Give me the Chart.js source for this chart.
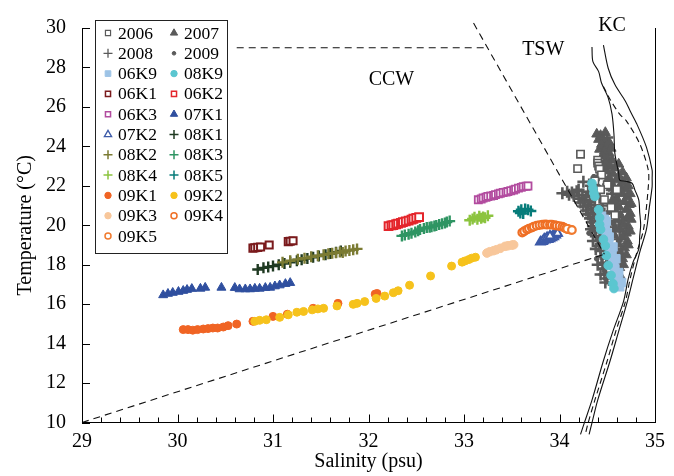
<!DOCTYPE html>
<html><head><meta charset="utf-8">
<script src="https://cdn.jsdelivr.net/npm/chart.js@4.4.1/dist/chart.umd.min.js"></script>
<style>html,body{margin:0;padding:0;background:#fff;}#wrap{width:674px;height:476px;position:relative;}</style>
</head><body><div id="wrap"><canvas id="c" width="674" height="476"></canvas></div>
<script>
// ---------- axis ticks ----------
const xTicks = [29, 30, 31, 32, 33, 34, 35];
const yTicks = [10, 12, 14, 16, 18, 20, 22, 24, 26, 28, 30];
const xMinorStep = 0.2;
const xTitle = 'Salinity (psu)';
const yTitle = 'Temperature (°C)';
const regionLabels = ['CCW', 'TSW', 'KC'];
const legendOrder = ['2006','2007','2008','2009','06K9','08K9','06K1','06K2','06K3','07K1','07K2','08K1','08K2','08K3','08K4','08K5','09K1','09K2','09K3','09K4','09K5'];

// ---------- series values [salinity, temperature] ----------
const d2006 = [[34.22,23.6],[34.19,22.87],[34.4,23.3],[34.4,23.15],[34.41,23.0],[34.42,22.85],[34.44,22.55],[34.37,22.25],[34.5,22.05],[34.43,21.8],[34.47,21.3],[34.54,20.9],[34.44,20.3],[34.52,19.7],[34.56,19.1],[34.48,18.5],[34.53,17.8],[34.58,20.5],[34.6,21.8]];
const d2007 = [[34.39,24.62],[34.43,24.55],[34.41,24.35],[34.46,24.3],[34.44,24.1],[34.49,24.0],[34.42,23.85],[34.47,23.75],[34.52,23.65],[34.45,23.5],[34.5,23.4],[34.55,23.3],[34.48,23.15],[34.53,23.0],[34.58,22.9],[34.5,22.75],[34.56,22.6],[34.62,22.5],[34.52,22.4],[34.6,22.3],[34.66,22.2],[34.55,22.1],[34.63,21.95],[34.69,21.85],[34.58,21.75],[34.66,21.6],[34.71,21.45],[34.6,21.35],[34.68,21.2],[34.73,21.05],[34.62,20.95],[34.7,20.8],[34.74,20.6],[34.64,20.5],[34.71,20.35],[34.66,20.15],[34.72,19.95],[34.64,19.8],[34.7,19.6],[34.66,19.4],[34.71,19.2],[34.62,19.05],[34.68,18.85],[34.64,18.6],[34.66,18.3],[34.6,18.1],[34.63,17.85],[34.58,17.6],[34.6,17.3],[34.56,17.1],
  [34.46,23.0],[34.5,22.2],[34.54,21.9],[34.56,21.3],[34.58,20.8],[34.6,20.3],[34.58,19.9],[34.57,19.5],[34.56,18.9],[34.55,18.4],[34.52,24.2],[34.48,24.7],[34.54,23.9],[34.62,23.1],[34.66,22.7],[34.7,22.4],[34.72,22.0],[34.74,21.6],[34.75,21.1],[34.75,20.3],[34.74,19.7],[34.72,19.0],[34.7,18.5],[34.67,18.0],[34.64,17.4],[34.6,16.9]];
const d2008 = [[34.03,21.62],[34.08,21.7],[34.13,21.66],[34.18,21.72],[34.15,21.5],[34.2,21.35],[34.24,21.55],[34.22,21.15],[34.27,21.25],[34.25,20.95],[34.3,21.05],[34.28,20.75],[34.33,20.85],[34.3,20.55],[34.35,20.6],[34.32,20.35],[34.37,20.4],[34.34,20.15],[34.39,20.2],[34.35,19.95],[34.4,19.9],[34.37,19.7],[34.42,19.65],[34.38,19.45],[34.44,19.4],[34.4,19.2],[34.46,19.15],[34.42,18.95],[34.47,18.9],[34.43,18.7],[34.48,18.6],[34.44,18.4],[34.49,18.3],[34.45,18.1],[34.5,18.0],[34.46,17.8],[34.51,17.7],[34.47,17.5],[34.5,17.3],[34.48,17.1],[34.33,22.0],[34.36,22.3],[34.38,21.8],[34.42,21.4],[34.45,21.0],[34.47,20.6],[34.5,20.2],[34.53,19.8],[34.55,19.4],[34.56,19.0],[34.57,18.6],[34.25,22.2],
  [34.3,21.7],[34.35,21.5],[34.28,21.45],[34.32,21.2],[34.37,21.0],[34.4,20.7],[34.42,20.4],[34.44,20.1],[34.46,19.8],[34.48,19.5],[34.5,19.0],[34.52,18.5],[34.53,18.1],[34.54,17.6],[34.4,22.5],[34.45,22.8],[34.48,23.2],[34.46,23.9],[34.44,24.3],[34.5,24.45],[34.52,22.0],[34.55,21.6],[34.58,21.1],[34.6,20.6],[34.62,20.2],[34.63,19.7],[34.6,19.2],[34.6,18.8],[34.58,18.3],[34.56,17.8],[34.35,19.2],[34.33,19.8],[34.38,18.8],[34.4,18.0],[34.43,17.5],[34.1,21.55],[34.2,21.8]];
const d2009 = [[34.36,22.45],[34.41,21.95],[34.46,21.2],[34.51,20.65],[34.56,20.1],[34.58,19.5],[34.5,19.0],[34.53,18.2],[34.55,17.5],[34.6,21.5],[34.63,20.9],[34.47,23.5],[34.43,24.0],[34.36,20.8],[34.31,19.6],[34.39,18.3],[34.65,22.0],[34.68,20.0]];
const d06K9 = [[34.44,20.46],[34.46,20.13],[34.48,19.79],[34.49,19.46],[34.51,19.13],[34.53,18.79],[34.55,18.46],[34.56,18.13],[34.58,17.79],[34.6,17.46],[34.62,17.13],[34.63,16.88],[34.47,20.3],[34.5,19.6],[34.54,18.6],[34.57,17.95],[34.49,20.2],[34.52,19.4],[34.56,18.9],[34.59,18.3],[34.62,17.6],[34.65,17.1]];
const d08K9 = [[34.34,22.13],[34.35,21.88],[34.36,21.63],[34.37,21.46],[34.41,20.79],[34.42,20.38],[34.42,20.04],[34.43,19.79],[34.46,19.29],[34.48,18.96],[34.49,18.46],[34.51,17.96],[34.54,17.46],[34.56,17.04],[34.57,16.79]];
const d06K1 = [[30.79,18.84],[30.81,18.86],[30.84,18.88],[30.87,18.9],[30.96,19.0],[31.16,19.17],[31.18,19.19],[31.21,19.21]];
const d06K2 = [[32.21,19.96],[32.24,19.99],[32.26,20.01],[32.29,20.05],[32.31,20.08],[32.34,20.12],[32.36,20.16],[32.39,20.2],[32.42,20.24],[32.45,20.29],[32.47,20.33],[32.5,20.37],[32.53,20.41]];
const d06K3 = [[33.15,21.29],[33.18,21.33],[33.2,21.38],[33.23,21.42],[33.25,21.46],[33.28,21.48],[33.31,21.51],[33.33,21.55],[33.36,21.59],[33.38,21.62],[33.41,21.66],[33.44,21.68],[33.46,21.71],[33.49,21.75],[33.52,21.79],[33.54,21.83],[33.57,21.88],[33.6,21.92],[33.62,21.96],[33.65,21.98],[33.67,21.99]];
const d07K1 = [[29.85,16.46],[29.9,16.53],[29.95,16.58],[30.01,16.63],[30.06,16.68],[30.1,16.73],[30.15,16.78],[30.24,16.79],[30.29,16.84],[30.46,16.84],[30.6,16.83],[30.65,16.76],[30.71,16.76],[30.76,16.76],[30.81,16.79],[30.86,16.79],[30.92,16.83],[30.97,16.84],[31.02,16.91],[31.07,16.96],[31.13,17.03],[31.18,17.08]];
const d07K2 = [[33.8,19.15],[33.82,19.18],[33.83,19.22],[33.85,19.25],[33.86,19.3],[33.88,19.28],[33.89,19.35],[33.9,19.32],[33.91,19.4],[33.92,19.36],[33.93,19.45],[33.94,19.42],[33.95,19.52],[33.96,19.5],[33.97,19.58],[33.98,19.6],[33.84,19.3],[33.87,19.38],[33.9,19.45]];
const d08K1 = [[30.84,17.76],[30.9,17.84],[30.95,17.88],[31.0,17.93],[31.06,18.0],[31.12,18.06],[31.18,18.12],[31.25,18.2],[31.3,18.25],[31.36,18.31],[31.42,18.38],[31.48,18.44],[31.55,18.51],[31.6,18.57],[31.66,18.63],[31.71,18.7]];
const d08K2 = [[31.1,18.12],[31.18,18.2],[31.26,18.27],[31.33,18.33],[31.4,18.4],[31.47,18.45],[31.53,18.5],[31.58,18.55],[31.62,18.58],[31.66,18.6],[31.7,18.65],[31.73,18.62],[31.76,18.7],[31.8,18.72],[31.84,18.76],[31.88,18.8]];
const d08K3 = [[32.35,19.46],[32.38,19.5],[32.42,19.54],[32.45,19.6],[32.49,19.66],[32.52,19.72],[32.54,19.79],[32.58,19.84],[32.61,19.88],[32.64,19.9],[32.66,19.93],[32.69,19.96],[32.71,19.99],[32.74,20.04],[32.77,20.08],[32.8,20.12],[32.82,20.16],[32.85,20.21]];
const d08K4 = [[33.06,20.25],[33.09,20.32],[33.11,20.4],[33.14,20.3],[33.16,20.45],[33.18,20.36],[33.2,20.42],[33.22,20.38],[33.25,20.48]];
const d08K5 = [[33.57,20.71],[33.6,20.79],[33.64,20.83],[33.67,20.79],[33.62,20.6],[33.59,20.62],[33.7,20.72]];
const d09K1 = [[30.06,14.71],[30.11,14.71],[30.16,14.68],[30.21,14.71],[30.27,14.74],[30.32,14.76],[30.37,14.79],[30.42,14.79],[30.48,14.84],[30.53,14.91],[30.62,14.99],[30.79,15.13],[31.0,15.38],[31.15,15.49],[31.42,15.79],[31.68,16.04],[32.07,16.51],[32.09,16.54]];
const d09K2 = [[30.81,15.13],[30.86,15.18],[30.93,15.21],[31.07,15.33],[31.16,15.46],[31.25,15.59],[31.32,15.63],[31.41,15.71],[31.47,15.76],[31.53,15.79],[31.67,15.91],[31.84,15.99],[31.88,16.04],[31.96,16.13],[32.08,16.29],[32.17,16.41],[32.26,16.58],[32.31,16.68],[32.43,16.96],[32.65,17.43],[32.87,17.93],[32.98,18.13],[33.01,18.19],[33.05,18.26],[33.08,18.33],[33.12,18.38]];
const d09K3 = [[33.24,18.59],[33.27,18.66],[33.31,18.71],[33.34,18.76],[33.38,18.83],[33.43,18.93],[33.46,18.96],[33.5,18.99],[33.52,19.01]];
const d09K4 = [[33.61,19.63],[33.63,19.7],[33.66,19.78],[33.68,19.83],[33.71,19.88],[33.73,19.93],[33.76,19.98],[33.79,20.01],[33.82,20.03],[33.85,20.04],[33.87,20.03],[33.9,20.03],[33.92,20.03],[33.95,20.0],[33.97,19.98],[34.0,19.96],[34.03,19.93],[34.05,19.88],[34.07,19.83],[34.09,19.8],[34.11,19.78]];
const d09K5 = [[34.08,19.82],[34.13,19.76]];

// ---------- water-mass boundaries and KC curves ----------
const bLower = [[29,10],[34.47,18.53]];
const bUpperH = [[30.62,29],[33.25,29]];
const bUpperD = [[33.10,30.25],[34.47,18.53]];
const kcLeft = [[34.34,29.04],[34.35,28.29],[34.41,27.79],[34.44,27.21],[34.51,26.46],[34.55,25.63],[34.57,24.63],[34.58,23.63],[34.62,22.63],[34.63,22.29],[34.69,22.23],[34.76,22.13],[34.79,21.78],[34.83,21.29],[34.84,20.63],[34.85,20.03],[34.84,19.46],[34.83,18.79],[34.77,18.13],[34.72,17.29],[34.67,16.13],[34.56,14.63],[34.46,13.13],[34.34,11.13],[34.26,9.98],[34.22,9.4]];
const kcRight = [[34.46,29.13],[34.51,27.96],[34.58,27.13],[34.69,26.29],[34.74,25.79],[34.81,25.13],[34.91,23.96],[34.97,22.79],[34.97,22.38],[34.97,21.96],[34.94,20.88],[34.91,19.79],[34.84,18.63],[34.77,17.29],[34.71,16.13],[34.62,14.63],[34.53,13.13],[34.4,11.13],[34.34,9.98],[34.31,9.4]];
const kcMid = [[34.46,27.04],[34.53,26.38],[34.63,25.63],[34.7,25.29],[34.84,24.13],[34.93,22.79],[34.93,21.96],[34.88,19.79],[34.81,18.63],[34.74,17.29],[34.69,16.13],[34.59,14.63],[34.5,13.13],[34.37,11.13],[34.3,9.98],[34.27,9.4]];

// ---------- styles ----------
const GRAY = '#5a5a5a';
const styles = {
  '2006': {ps:'rect', fill:false, c:GRAY, r:5.2, lw:1.6, lr:3.6, llw:1.2},
  '2007': {ps:'triangle', fill:true, c:GRAY, r:5.8, lw:1, lr:4.2, llw:1},
  '2008': {ps:'cross', fill:false, c:GRAY, r:6, lw:2.6, lr:4.5, llw:1.3},
  '2009': {ps:'circle', fill:true, c:GRAY, r:2.4, lw:1, lr:1.8, llw:1},
  '06K9': {ps:'rect', fill:true, c:'#9dc3e6', r:6, lw:1, lr:4, llw:1},
  '08K9': {ps:'circle', fill:true, c:'#5bc6d0', r:4.3, lw:1, lr:3.2, llw:1},
  '06K1': {ps:'rect', fill:false, c:'#7a1a1c', r:5, lw:2, lr:3.6, llw:1.5},
  '06K2': {ps:'rect', fill:false, c:'#e4252b', r:5.5, lw:2, lr:3.6, llw:1.5},
  '06K3': {ps:'rect', fill:false, c:'#b24c9f', r:5, lw:1.8, lr:3.6, llw:1.5},
  '07K1': {ps:'triangle', fill:true, c:'#2f4f9f', r:5.2, lw:1, lr:4.2, llw:1},
  '07K2': {ps:'triangle', fill:false, c:'#3c5aa8', r:5, lw:2, lr:4.2, llw:1.3},
  '08K1': {ps:'cross', fill:false, c:'#1f3a22', r:5.5, lw:2.4, lr:4.5, llw:1.5},
  '08K2': {ps:'cross', fill:false, c:'#7b7b33', r:5.5, lw:2.4, lr:4.5, llw:1.5},
  '08K3': {ps:'cross', fill:false, c:'#2f9563', r:5.5, lw:2.4, lr:4.5, llw:1.5},
  '08K4': {ps:'cross', fill:false, c:'#8cc43f', r:5.5, lw:2.4, lr:4.5, llw:1.5},
  '08K5': {ps:'cross', fill:false, c:'#077c7a', r:5.5, lw:2.4, lr:4.5, llw:1.5},
  '09K1': {ps:'circle', fill:true, c:'#f06424', r:4, lw:1, lr:3.2, llw:1},
  '09K2': {ps:'circle', fill:true, c:'#f6c21c', r:4, lw:1, lr:3.2, llw:1},
  '09K3': {ps:'circle', fill:true, c:'#f8c79b', r:4.3, lw:1, lr:3.2, llw:1},
  '09K4': {ps:'circle', fill:false, c:'#ef6f25', r:3.8, lw:2.2, lr:3, llw:1.5},
  '09K5': {ps:'circle', fill:false, c:'#f07a2e', r:3.8, lw:2.2, lr:3, llw:1.5}
};
const seriesData = {'2006':d2006,'2007':d2007,'2008':d2008,'2009':d2009,'06K9':d06K9,'08K9':d08K9,'06K1':d06K1,'06K2':d06K2,'06K3':d06K3,'07K1':d07K1,'07K2':d07K2,'08K1':d08K1,'08K2':d08K2,'08K3':d08K3,'08K4':d08K4,'08K5':d08K5,'09K1':d09K1,'09K2':d09K2,'09K3':d09K3,'09K4':d09K4,'09K5':d09K5};

const toXY = a => a.map(p => ({x:p[0], y:p[1]}));
const datasets = [];
function lineDs(label, arr, dash, tension){
  return {label, data: toXY(arr), showLine:true, pointRadius:0, borderColor:'#111', borderWidth:1.1,
    borderDash: dash, tension: tension, clip:false, order:0, fill:false};
}
datasets.push(lineDs('bLower', bLower, [7,5], 0));
datasets.push(lineDs('bUpperH', bUpperH, [7,5], 0));
datasets.push(lineDs('bUpperD', bUpperD, [7,5], 0));
datasets.push(lineDs('kcLeft', kcLeft, [], 0.3));
datasets.push(lineDs('kcRight', kcRight, [], 0.3));
datasets.push(lineDs('kcMid', kcMid, [6,4], 0.3));
const drawSeq = ['08K9','06K9','09K5','09K4','09K3','09K2','09K1','08K5','08K4','08K3','08K2','08K1','07K2','07K1','06K3','06K2','06K1','2006','2009','2007','2008'];
drawSeq.forEach(name => {
  const s = styles[name];
  const gray = /^20/.test(name);
  datasets.push({label:name, data: toXY(seriesData[name]), showLine:false,
    pointStyle:s.ps, pointRadius:s.r, pointBorderWidth:s.lw,
    pointBackgroundColor: s.fill ? s.c : '#ffffff', pointBorderColor:s.c,
    pointHoverRadius:s.r, order: gray ? 2 : 1});
});

const FONT = '"Liberation Serif", "Times New Roman", serif';
Chart.defaults.font.family = FONT;
Chart.defaults.color = '#000';

const tickPlugin = {
  id:'inwardTicks',
  afterDatasetsDraw(chart){
    const ctx = chart.ctx, ca = chart.chartArea, xs = chart.scales.x, ys = chart.scales.y;
    ctx.save();
    ctx.strokeStyle = '#000'; ctx.lineWidth = 1;
    ctx.beginPath();
    const n = Math.round((xTicks[xTicks.length-1]-xTicks[0])/xMinorStep);
    for (let i=0;i<=n;i++){
      const v = xTicks[0] + i*xMinorStep;
      const major = i % Math.round(1/xMinorStep) === 0;
      const px = Math.round(xs.getPixelForValue(v)) + 0.5;
      ctx.moveTo(px, ca.bottom); ctx.lineTo(px, ca.bottom - (major ? 8 : 5));
    }
    yTicks.forEach(v => {
      const py = Math.round(ys.getPixelForValue(v)) + 0.5;
      ctx.moveTo(ca.left, py); ctx.lineTo(ca.left + 8, py);
    });
    ctx.moveTo(Math.round(ca.right)+0.5, ca.top); ctx.lineTo(Math.round(ca.right)+0.5, ca.bottom);
    ctx.stroke();

    const pos = {CCW:[32.24,27.38], TSW:[33.83,28.9], KC:[34.55,30.12]};
    ctx.fillStyle = '#000'; ctx.font = '20px ' + FONT; ctx.textAlign='center'; ctx.textBaseline='middle';
    regionLabels.forEach(t => ctx.fillText(t, xs.getPixelForValue(pos[t][0]), ys.getPixelForValue(pos[t][1])));

    const bx = ca.left + 13, by = 20, bw = 132, bh = 233;
    ctx.fillStyle = '#fff'; ctx.fillRect(bx, by, bw, bh);
    ctx.strokeStyle = '#222'; ctx.lineWidth = 1; ctx.strokeRect(bx+0.5, by+0.5, bw, bh);
    ctx.font = '17.5px ' + FONT; ctx.textAlign='left'; ctx.textBaseline='middle';
    legendOrder.forEach((name, i) => {
      const col = i % 2, row = Math.floor(i/2);
      const mx = bx + 13 + col*66, my = by + 13 + row*20.3;
      const s = styles[name];
      ctx.save();
      ctx.fillStyle = s.fill ? s.c : '#fff'; ctx.strokeStyle = s.c; ctx.lineWidth = s.llw;
      Chart.helpers.drawPoint(ctx, {pointStyle:s.ps, radius:s.lr, rotation:0, borderWidth:s.llw}, mx, my);
      ctx.restore();
      ctx.fillStyle = '#000';
      ctx.fillText(name, mx + 10, my + 1);
    });
    ctx.restore();
  }
};

new Chart(document.getElementById('c'), {
  type:'scatter',
  data:{datasets},
  options:{
    responsive:false, animation:false, devicePixelRatio:1,
    layout:{padding:{left:0, right:19, top:22, bottom:0}},
    plugins:{legend:{display:false}, tooltip:{enabled:false}},
    elements:{line:{borderCapStyle:'butt'}},
    scales:{
      x:{type:'linear', min:29, max:35,
        afterBuildTicks: s => { s.ticks = xTicks.map(v => ({value:v})); },
        afterFit: s => { s.height = 53.5; },
        grid:{display:true, drawOnChartArea:false, drawTicks:false},
        border:{display:true, color:'#000', width:1},
        ticks:{font:{size:20}, color:'#000', padding:7, maxRotation:0},
        title:{display:true, text:xTitle, font:{size:20, lineHeight:1.2}, color:'#000', padding:{top:0,bottom:2}}
      },
      y:{type:'linear', min:10, max:30,
        afterBuildTicks: s => { s.ticks = yTicks.map(v => ({value:v})); },
        afterFit: s => { s.width = 82; },
        grid:{display:true, drawOnChartArea:false, drawTicks:false},
        border:{display:true, color:'#000', width:1},
        ticks:{font:{size:20}, color:'#000', padding:16},
        title:{display:true, text:yTitle, font:{size:20, lineHeight:1.2}, color:'#000', padding:{top:14,bottom:0}}
      }
    }
  },
  plugins:[tickPlugin]
});
</script></body></html>
